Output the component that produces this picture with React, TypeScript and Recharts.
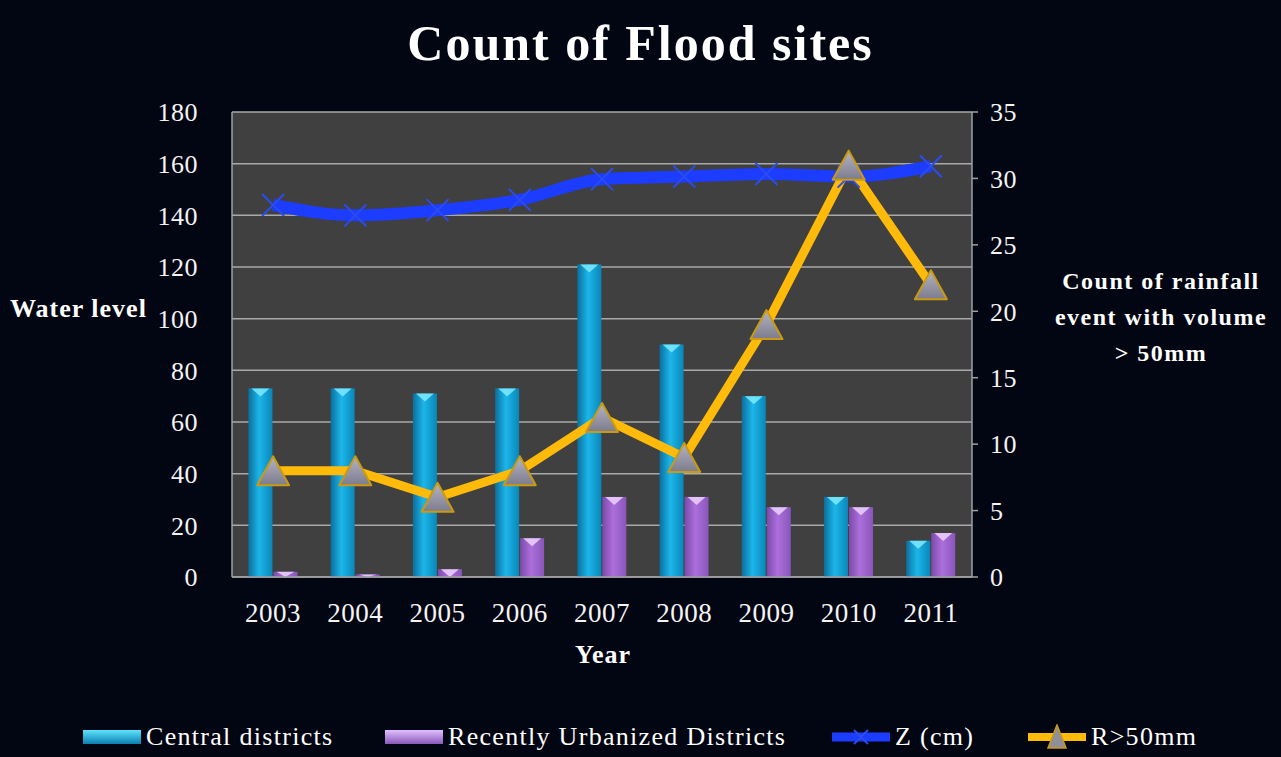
import { ComposedChart, Bar, Line, XAxis, YAxis, CartesianGrid } from 'recharts';

const years = ['2003', '2004', '2005', '2006', '2007', '2008', '2009', '2010', '2011'];
const centralDistricts = [73, 73, 71, 73, 121, 90, 70, 31, 14];
const urbanizedDistricts = [2, 1, 3, 15, 31, 31, 27, 27, 17];
const waterLevelZ = [144, 140, 142, 146, 154, 155, 156, 155, 159];
const rainfallOver50 = [8, 8, 6, 8, 12, 9, 19, 31, 22];
const leftTicks = [0, 20, 40, 60, 80, 100, 120, 140, 160, 180];
const rightTicks = [0, 5, 10, 15, 20, 25, 30, 35];

const data = years.map((year, i) => ({
  year,
  central: centralDistricts[i],
  urbanized: urbanizedDistricts[i],
  z: waterLevelZ[i],
  r: rainfallOver50[i],
}));

const SERIF = '"Liberation Serif", "DejaVu Serif", serif';
const BG = '#020512';
const PLOT_BG = '#404040';
const CYAN = '#1cb6ea';
const PURPLE = '#ac6fdc';
const BLUE = '#1c3cff';
const GOLD = '#ffba0a';
const TICK_FONT = { fill: '#f4f4f4', fontSize: 26, fontFamily: SERIF, letterSpacing: 0.5 };

// bar with a horizontal shine and a light "v" bevel on top
function makeBar(gradId: string, capColor: string) {
  return (props: any) => {
    const { x, y, width, height } = props;
    if (!height || height <= 0) return <g />;
    const cap = Math.min(8, height);
    return (
      <g>
        <rect x={x} y={y} width={width} height={height} fill={`url(#${gradId})`} />
        <polygon
          points={`${x + 3},${y} ${x + width - 3},${y} ${x + width / 2},${y + cap}`}
          fill={capColor}
          opacity={0.85}
        />
      </g>
    );
  };
}

const TriangleDot = (props: any) => {
  const { cx, cy, index } = props;
  if (cx == null || cy == null) return <g key={index} />;
  const w = 32;
  const h = 29;
  return (
    <polygon
      key={index}
      points={`${cx},${cy - h / 2} ${cx + w / 2},${cy + h / 2} ${cx - w / 2},${cy + h / 2}`}
      fill="url(#triGrad)"
      stroke="#c99a12"
      strokeWidth={2}
      strokeLinejoin="round"
    />
  );
};

const CrossDot = (props: any) => {
  const { cx, cy, index } = props;
  if (cx == null || cy == null) return <g key={index} />;
  const s = 11;
  return (
    <g key={index} stroke="#2a4cf0" strokeWidth={2}>
      <line x1={cx - s} y1={cy - s} x2={cx + s} y2={cy + s} />
      <line x1={cx - s} y1={cy + s} x2={cx + s} y2={cy - s} />
    </g>
  );
};

const LegendItem = ({ kind, label, left }: { kind: string; label: string; left: number }) => {
  let icon;
  if (kind === 'central' || kind === 'urban') {
    const c = kind === 'central' ? ['#0a7fb0', '#5fe4ff'] : ['#8a58b8', '#e0c0ff'];
    icon = (
      <svg width={58} height={18}>
        <defs>
          <linearGradient id={`lg-${kind}`} x1="0" y1="0" x2="0" y2="1">
            <stop offset="0%" stopColor={c[1]} />
            <stop offset="100%" stopColor={c[0]} />
          </linearGradient>
        </defs>
        <rect x={0} y={2} width={58} height={14} fill={`url(#lg-${kind})`} />
      </svg>
    );
  } else if (kind === 'z') {
    icon = (
      <svg width={58} height={18}>
        <line x1={0} y1={9} x2={58} y2={9} stroke={BLUE} strokeWidth={9} />
        <line x1={22} y1={2} x2={36} y2={16} stroke="#2a4cf0" strokeWidth={2} />
        <line x1={22} y1={16} x2={36} y2={2} stroke="#2a4cf0" strokeWidth={2} />
      </svg>
    );
  } else {
    icon = (
      <svg width={58} height={26}>
        <line x1={0} y1={13} x2={58} y2={13} stroke={GOLD} strokeWidth={8} />
        <polygon points="29,1 38,24 20,24" fill="#8f8f9c" stroke="#c99a12" strokeWidth={1.5} />
      </svg>
    );
  }
  return (
    <div
      style={{
        position: 'absolute', left, top: 0, height: 30,
        display: 'flex', alignItems: 'center', gap: 5, whiteSpace: 'nowrap',
      }}
    >
      {icon}
      <span>{label}</span>
    </div>
  );
};

export default function App() {
  return (
    <div
      style={{
        position: 'absolute',
        left: 0,
        top: 0,
        width: 1281,
        height: 757,
        background: BG,
        fontFamily: SERIF,
        color: '#ffffff',
        overflow: 'hidden',
      }}
    >
      <div
        style={{
          position: 'absolute', top: 14, left: 0, width: 1281, textAlign: 'center',
          fontSize: 50, fontWeight: 700, letterSpacing: 2,
        }}
      >
        Count of Flood sites
      </div>
      <div
        style={{
          position: 'absolute', top: 294, left: 10, fontSize: 26, fontWeight: 700, letterSpacing: 1,
        }}
      >
        Water level
      </div>
      <div
        style={{
          position: 'absolute', top: 263, left: 1041, width: 240, textAlign: 'center',
          fontSize: 24, fontWeight: 700, lineHeight: '36px', letterSpacing: 1.5, whiteSpace: 'nowrap',
        }}
      >
        Count of rainfall
        <br />
        event with volume
        <br />
        {'> 50mm'}
      </div>
      <div
        style={{
          position: 'absolute', top: 640, left: 575, fontSize: 26, fontWeight: 700, letterSpacing: 1,
        }}
      >
        Year
      </div>

      <div style={{ position: 'absolute', left: 0, top: 0 }}>
        <ComposedChart
          width={1281}
          height={757}
          data={data}
          margin={{ top: 112, right: 0, bottom: 120, left: 0 }}
          barCategoryGap="20%"
          barGap={1}
        >
          <defs>
            <linearGradient id="cyanGrad" x1="0" y1="0" x2="1" y2="0">
              <stop offset="0%" stopColor="#0b6f9e" />
              <stop offset="45%" stopColor={CYAN} />
              <stop offset="100%" stopColor="#0a86b8" />
            </linearGradient>
            <linearGradient id="purpleGrad" x1="0" y1="0" x2="1" y2="0">
              <stop offset="0%" stopColor="#7b4aa8" />
              <stop offset="45%" stopColor={PURPLE} />
              <stop offset="100%" stopColor="#8a56bb" />
            </linearGradient>
            <linearGradient id="triGrad" x1="0" y1="0" x2="0" y2="1">
              <stop offset="0%" stopColor="#b4b4c4" />
              <stop offset="100%" stopColor="#7c7c8c" />
            </linearGradient>
          </defs>
          <CartesianGrid
            yAxisId="left"
            vertical={false}
            stroke="#a9a9a9"
            strokeWidth={1.5}
            fill={PLOT_BG}
            fillOpacity={1}
          />
          <XAxis
            dataKey="year"
            height={60}
            tickLine={false}
            axisLine={{ stroke: '#a0a0a0', strokeWidth: 1.5 }}
            tickMargin={20}
            tick={{ ...TICK_FONT, fontSize: 27 }}
            interval={0}
          />
          <YAxis
            yAxisId="left"
            orientation="left"
            width={232}
            domain={[0, 180]}
            ticks={leftTicks}
            interval={0}
            tickLine={false}
            axisLine={{ stroke: '#a0a0a0', strokeWidth: 1.5 }}
            tickMargin={28}
            tick={TICK_FONT}
          />
          <YAxis
            yAxisId="right"
            orientation="right"
            width={309}
            domain={[0, 35]}
            ticks={rightTicks}
            interval={0}
            tickSize={6}
            tickLine={{ stroke: '#a0a0a0', strokeWidth: 1.5 }}
            axisLine={{ stroke: '#a0a0a0', strokeWidth: 1.5 }}
            tickMargin={12}
            tick={TICK_FONT}
          />
          <Bar
            yAxisId="left"
            dataKey="central"
            name="Central districts"
            fill={CYAN}
            shape={makeBar('cyanGrad', '#7eeaff')}
            isAnimationActive={false}
          />
          <Bar
            yAxisId="left"
            dataKey="urbanized"
            name="Recently Urbanized Districts"
            fill={PURPLE}
            shape={makeBar('purpleGrad', '#ecd2ff')}
            isAnimationActive={false}
          />
          <Line
            yAxisId="left"
            type="monotone"
            dataKey="z"
            name="Z (cm)"
            stroke={BLUE}
            strokeWidth={12}
            dot={CrossDot}
            activeDot={false}
            isAnimationActive={false}
          />
          <Line
            yAxisId="right"
            type="linear"
            dataKey="r"
            name="R>50mm"
            stroke={GOLD}
            strokeWidth={9}
            strokeLinejoin="round"
            dot={TriangleDot}
            activeDot={false}
            isAnimationActive={false}
          />
        </ComposedChart>
      </div>

      <div style={{ position: 'absolute', top: 722, left: 0, width: 1281, height: 30, fontSize: 26, letterSpacing: 1.3 }}>
        <LegendItem kind="central" left={83} label="Central districts" />
        <LegendItem kind="urban" left={385} label="Recently Urbanized Districts" />
        <LegendItem kind="z" left={832} label="Z (cm)" />
        <LegendItem kind="r" left={1028} label="R>50mm" />
      </div>
    </div>
  );
}
